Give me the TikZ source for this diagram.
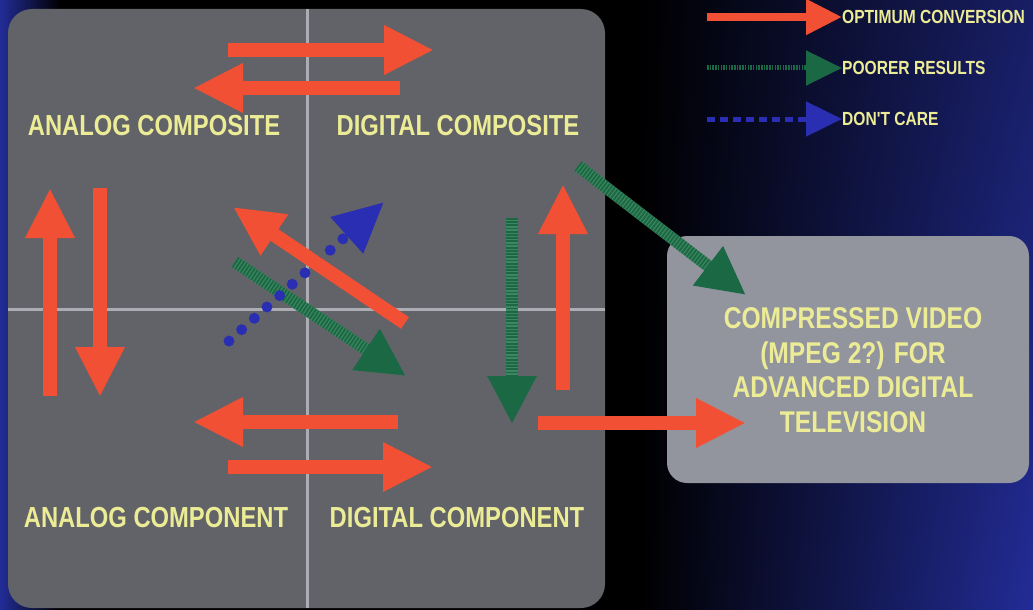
\documentclass[tikz,border=0pt]{standalone}
\usepackage{fontspec}
\newfontfamily\lblfont[FakeStretch=0.82]{Liberation Sans}
\usetikzlibrary{arrows.meta,shadings}
\definecolor{bgblue}{RGB}{34,44,150}
\definecolor{bgnavy}{RGB}{24,30,100}
\definecolor{boxgray}{RGB}{98,99,104}
\definecolor{lightbox}{RGB}{146,148,158}
\definecolor{crossgray}{RGB}{172,172,180}
\definecolor{txtyellow}{RGB}{236,236,150}
\definecolor{arrred}{RGB}{242,80,52}
\definecolor{arrgreen}{RGB}{26,104,68}
\definecolor{arrgreenlt}{RGB}{60,135,95}
\definecolor{arrblue}{RGB}{42,46,178}
\tikzset{
  lbl/.style={text=txtyellow, font=\lblfont\bfseries\fontsize{29}{34}\selectfont, inner sep=0pt},
  boxtxt/.style={text=txtyellow, font=\lblfont\bfseries\fontsize{30}{34.5}\selectfont, inner sep=0pt, align=center},
  legtxt/.style={text=txtyellow, font=\lblfont\bfseries\fontsize{19}{22}\selectfont, inner sep=0pt, anchor=west},
  redarrow/.style={draw=arrred, line width=14pt, -{Triangle[length=50pt,width=46pt]}},
  greenbase/.style={draw=arrgreenlt, line width=12pt, shorten >=40pt},
  greenarrow/.style={draw=arrgreen, line width=12pt, dash pattern=on 1.8pt off 1.4pt, -{Triangle[length=48pt,width=46pt]}},
  bluearrow/.style={draw=arrblue, line width=11pt, line cap=round, dash pattern=on 0pt off 17pt, -{Triangle[length=50pt,width=46pt]}},
  legred/.style={draw=arrred, line width=8pt, -{Triangle[length=36pt,width=34pt]}},
  leggreen/.style={draw=arrgreen, line width=5pt, dash pattern=on 1.5pt off 1.2pt, -{Triangle[length=36pt,width=34pt]}},
  legblue/.style={draw=arrblue, line width=5pt, dash pattern=on 8pt off 5pt, -{Triangle[length=36pt,width=34pt]}},
}
\begin{document}
\begin{tikzpicture}[x=1pt,y=-1pt]
% background
\useasboundingbox (0,0) rectangle (1033,610);
\fill[black] (0,0) rectangle (1033,610);
\shade[upper left=black, lower left=black, upper right=bgnavy, lower right=bgblue] (640,0) rectangle (1033,610);
\shade[left color=bgblue, right color=black] (0,0) rectangle (60,610);
% main panel
\fill[boxgray, rounded corners=24pt] (8,9) rectangle (605,608);
\draw[crossgray, line width=3pt] (307,9) -- (307,608);
\draw[crossgray, line width=3pt] (8,309) -- (605,309);
% right box
\fill[lightbox, rounded corners=20pt] (667,236) rectangle (1029,483);
% labels
\node[lbl] (ac) at (154,126) {ANALOG COMPOSITE};
\node[lbl] (dc) at (458,126) {DIGITAL COMPOSITE};
\node[lbl] (an) at (156,518) {ANALOG COMPONENT};
\node[lbl] (dn) at (457,518) {DIGITAL COMPONENT};
\node[boxtxt] (cv) at (853,370) {COMPRESSED VIDEO\\(MPEG 2?) FOR\\ADVANCED DIGITAL\\TELEVISION};
% arrow endpoints
\coordinate (t1a) at (228,50);  \coordinate (t1b) at (434,50);
\coordinate (t2a) at (400,88);  \coordinate (t2b) at (193,88);
\coordinate (l1a) at (50,396);  \coordinate (l1b) at (50,188);
\coordinate (l2a) at (100,188); \coordinate (l2b) at (100,397);
\coordinate (d1a) at (405,323); \coordinate (d1b) at (233,207);
\coordinate (d2a) at (229,341); \coordinate (d2b) at (384,202);
\coordinate (d3a) at (235,262); \coordinate (d3b) at (406,376);
\coordinate (r1a) at (512,218); \coordinate (r1b) at (512,424);
\coordinate (r2a) at (563,390); \coordinate (r2b) at (563,184);
\coordinate (g1a) at (578,166); \coordinate (g1b) at (746,295);
\coordinate (o1a) at (538,423); \coordinate (o1b) at (746,423);
\coordinate (b1a) at (398,422); \coordinate (b1b) at (193,422);
\coordinate (b2a) at (228,467); \coordinate (b2b) at (433,467);
% arrows
\draw[redarrow] (t1a) -- (t1b);
\draw[redarrow] (t2a) -- (t2b);
\draw[redarrow] (l1a) -- (l1b);
\draw[redarrow] (l2a) -- (l2b);
\draw[greenbase] (d3a) -- (d3b);
\draw[greenarrow] (d3a) -- (d3b);
\draw[bluearrow] (d2a) -- (d2b);
\draw[redarrow] (d1a) -- (d1b);
\draw[greenbase] (r1a) -- (r1b);
\draw[greenarrow] (r1a) -- (r1b);
\draw[redarrow] (r2a) -- (r2b);
\draw[greenbase] (g1a) -- (g1b);
\draw[greenarrow] (g1a) -- (g1b);
\draw[redarrow] (o1a) -- (o1b);
\draw[redarrow] (b1a) -- (b1b);
\draw[redarrow] (b2a) -- (b2b);
% legend
\node[legtxt] (lg1) at (842,17) {OPTIMUM CONVERSION};
\node[legtxt] (lg2) at (842,68) {POORER RESULTS};
\node[legtxt] (lg3) at (842,119) {DON'T CARE};
\coordinate (k1) at (707,17);
\coordinate (k2) at (707,68);
\coordinate (k3) at (707,119);
\draw[legred] (k1) -- (lg1.west);
\draw[leggreen] (k2) -- (lg2.west);
\draw[legblue] (k3) -- (lg3.west);
\end{tikzpicture}
\end{document}
